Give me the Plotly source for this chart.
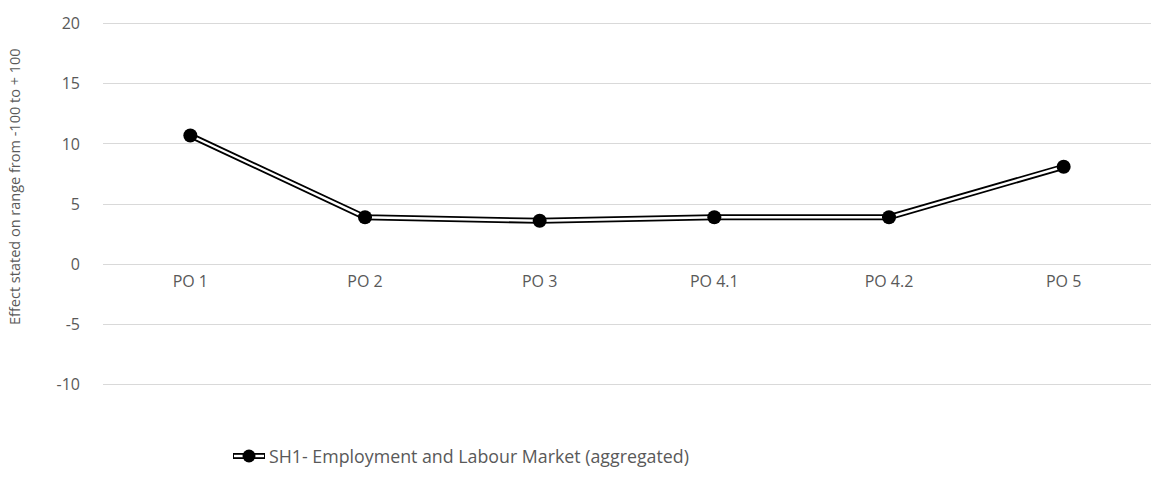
import plotly.graph_objects as go

# Priority objectives and their aggregated effect scores
categories = ["PO 1", "PO 2", "PO 3", "PO 4.1", "PO 4.2", "PO 5"]
effect_values = [10.7, 3.9, 3.6, 3.9, 3.9, 8.1]
series_name = "SH1- Employment and Labour Market (aggregated)"
y_ticks = [-10, -5, 0, 5, 10, 15, 20]
y_tick_text = ["-10", "-5", "0", "5", "10", "15", "20"]
y_title = "Effect stated on range from -100 to + 100"

FONT = "Open Sans"
TEXT = "#595959"
GRID = "#d9d9d9"
W, H = 1168, 481
L, R, T, B = 103, 17, 22, 95
PW, PH = W - L - R, H - T - B
PAD = 0.15  # keeps the outer gridlines just inside the plot area


def px_x(px):
    return (px - L) / PW


def px_y(py):
    return (H - B - py) / PH


fig = go.Figure()

# Double-stroke line: a wide black stroke with a thin white core on top
fig.add_trace(go.Scatter(
    x=categories, y=effect_values, mode="lines",
    line=dict(color="black", width=6), showlegend=False, hoverinfo="skip",
))
fig.add_trace(go.Scatter(
    x=categories, y=effect_values, mode="lines",
    line=dict(color="white", width=2.4), showlegend=False, hoverinfo="skip",
))
fig.add_trace(go.Scatter(
    x=categories, y=effect_values, mode="markers", name=series_name,
    marker=dict(color="black", size=14), showlegend=False,
))

# Legend key drawn as a double line with a dot
lx0, lx1, ly = 233, 265, 456
fig.add_shape(type="line", xref="paper", yref="paper",
              x0=px_x(lx0), x1=px_x(lx1), y0=px_y(ly), y1=px_y(ly),
              line=dict(color="black", width=6))
fig.add_shape(type="line", xref="paper", yref="paper",
              x0=px_x(lx0 + 1), x1=px_x(lx1 - 1), y0=px_y(ly), y1=px_y(ly),
              line=dict(color="white", width=2.4))
fig.add_shape(type="circle", xref="paper", yref="paper",
              x0=px_x(249 - 6.5), x1=px_x(249 + 6.5),
              y0=px_y(ly + 6.5), y1=px_y(ly - 6.5),
              fillcolor="black", line=dict(color="black", width=0))
fig.add_annotation(text=series_name, xref="paper", yref="paper",
                   x=px_x(267), y=px_y(ly), xanchor="left", yanchor="middle",
                   showarrow=False,
                   font=dict(family=FONT, size=17.8, color=TEXT))

# Vertical axis title
fig.add_annotation(text=y_title, xref="paper", yref="paper",
                   x=px_x(14), y=px_y(187), xanchor="center", yanchor="middle",
                   textangle=-90, showarrow=False,
                   font=dict(family=FONT, size=14.5, color=TEXT))

fig.update_layout(
    width=W, height=H,
    margin=dict(l=L, r=R, t=T, b=B),
    plot_bgcolor="white", paper_bgcolor="white",
    font=dict(family=FONT, color=TEXT),
    showlegend=False,
    xaxis=dict(
        type="category", range=[-0.5, 5.5],
        anchor="free", position=(10 + PAD) / (30 + 2 * PAD),
        showgrid=False, showline=False, zeroline=False, ticks="",
        ticklabelstandoff=6,
        tickfont=dict(family=FONT, size=16, color=TEXT),
    ),
    yaxis=dict(
        range=[-10 - PAD, 20 + PAD], tickvals=y_ticks, ticktext=y_tick_text,
        showgrid=True, gridcolor=GRID, gridwidth=1.3,
        zeroline=True, zerolinecolor=GRID, zerolinewidth=1.3,
        showline=False, ticks="", ticklabelstandoff=22,
        tickfont=dict(family=FONT, size=16, color=TEXT),
    ),
)

fig.write_html("out.html")
